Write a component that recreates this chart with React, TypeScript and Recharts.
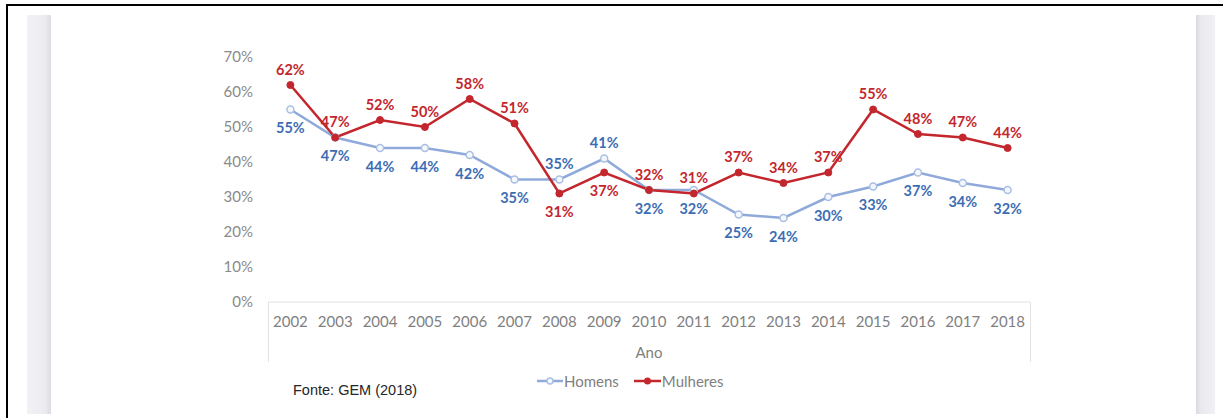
import React from 'react';
import { LineChart, Line, XAxis, YAxis, Legend, LabelList } from 'recharts';

const years = ['2002', '2003', '2004', '2005', '2006', '2007', '2008', '2009', '2010', '2011', '2012', '2013', '2014', '2015', '2016', '2017', '2018'];
const homens = [55, 47, 44, 44, 42, 35, 35, 41, 32, 32, 25, 24, 30, 33, 37, 34, 32];
const mulheres = [62, 47, 52, 50, 58, 51, 31, 37, 32, 31, 37, 34, 37, 55, 48, 47, 44];
const yTicks = [0, 10, 20, 30, 40, 50, 60, 70];

const data = years.map((ano, i) => ({ ano, homens: homens[i], mulheres: mulheres[i] }));

const FONT = "Lato, 'Open Sans', sans-serif";
const RED = '#C3272D';
const BLUE_LINE = '#8FAADA';
const BLUE_TEXT = '#3C6DB4';

const makeLabel = (series: 'homens' | 'mulheres', color: string) => (props: any) => {
  const { x, y, value, index } = props;
  const h = homens[index];
  const m = mulheres[index];
  const swapped = h - m > 2;
  const above = series === 'mulheres' ? !swapped : swapped;
  const dy = above ? -16 : 18;
  return (
    <text
      x={x}
      y={y + dy}
      textAnchor="middle"
      dominantBaseline="central"
      fill={color}
      fontSize={14.5}
      fontWeight={700}
      fontFamily={FONT}
    >
      {value}%
    </text>
  );
};

const LegendContent = () => (
  <div style={{ display: 'flex', alignItems: 'center', fontFamily: FONT, fontSize: 15, color: '#808080', lineHeight: '20px', whiteSpace: 'nowrap' }}>
    <svg width={26} height={10} style={{ display: 'block' }}>
      <line x1={0} y1={5} x2={26} y2={5} stroke={BLUE_LINE} strokeWidth={2.5} />
      <circle cx={13} cy={5} r={3} fill="#f4f7fc" stroke="#a9bfe3" strokeWidth={1.5} />
    </svg>
    <span style={{ marginLeft: 1 }}>Homens</span>
    <svg width={27} height={10} style={{ display: 'block', marginLeft: 15 }}>
      <line x1={0} y1={5} x2={27} y2={5} stroke={RED} strokeWidth={2.5} />
      <circle cx={13.5} cy={5} r={3.5} fill={RED} />
    </svg>
    <span style={{ marginLeft: 1 }}>Mulheres</span>
  </div>
);

export default function App() {
  return (
    <div style={{ position: 'absolute', left: 0, top: 0, width: 1223, height: 418, background: '#ffffff', overflow: 'hidden' }}>
      <div style={{ position: 'absolute', left: 6, top: 4, width: 1217, height: 2, background: '#000' }} />
      <div style={{ position: 'absolute', left: 6, top: 4, width: 2, height: 414, background: '#000' }} />
      <div style={{ position: 'absolute', left: 27, top: 15, width: 24, height: 399, background: 'linear-gradient(to right, #f2f2f6, #ebebf0 75%, #dcdce2)' }} />
      <div style={{ position: 'absolute', left: 1196, top: 15, width: 19, height: 399, background: 'linear-gradient(to right, #dadae0, #e9e9ee 25%, #f1f1f5)' }} />
      <div style={{ position: 'absolute', left: 268, top: 302, width: 761, height: 60, borderLeft: '1px solid #e2e2e2', borderRight: '1px solid #e2e2e2', pointerEvents: 'none' }} />
      <div style={{ position: 'absolute', left: 0, top: 0 }}>
        <LineChart width={1223} height={418} data={data} margin={{ top: 57, right: 193, bottom: 56, left: 0 }}>
          <XAxis
            dataKey="ano"
            interval={0}
            padding={{ left: 22.4, right: 22.4 }}
            height={60}
            tickLine={false}
            tickSize={0}
            tickMargin={14}
            axisLine={{ stroke: '#e2e2e2', strokeWidth: 1 }}
            tick={{ fill: '#7f7f7f', fontSize: 15, fontFamily: FONT }}
            label={{ value: 'Ano', position: 'insideBottom', offset: 4, fill: '#7f7f7f', fontSize: 15, fontFamily: FONT }}
          />
          <YAxis
            type="number"
            domain={[0, 70]}
            ticks={yTicks}
            width={268}
            axisLine={false}
            tickLine={false}
            tickSize={0}
            tickMargin={15}
            tickFormatter={(v: number) => `${v}%`}
            tick={{ fill: '#8a8a8a', fontSize: 15, fontFamily: FONT }}
          />
          <Legend
            layout="horizontal"
            verticalAlign="middle"
            align="center"
            content={LegendContent}
            wrapperStyle={{ left: 537, top: 371, bottom: 'auto', width: 'auto' }}
          />
          <Line
            dataKey="homens"
            name="Homens"
            stroke={BLUE_LINE}
            strokeWidth={2.5}
            dot={{ r: 3.5, fill: '#f4f7fc', stroke: '#a9bfe3', strokeWidth: 1.5 }}
            activeDot={false}
            isAnimationActive={false}
          >
            <LabelList dataKey="homens" content={makeLabel('homens', BLUE_TEXT)} />
          </Line>
          <Line
            dataKey="mulheres"
            name="Mulheres"
            stroke={RED}
            strokeWidth={2.5}
            dot={{ r: 3.5, fill: RED, stroke: RED, strokeWidth: 1 }}
            activeDot={false}
            isAnimationActive={false}
          >
            <LabelList dataKey="mulheres" content={makeLabel('mulheres', RED)} />
          </Line>
        </LineChart>
      </div>
      <div style={{ position: 'absolute', left: 293, top: 381, fontFamily: "'Liberation Sans', Arial, sans-serif", fontSize: 14.5, lineHeight: '18px', color: '#262626', whiteSpace: 'nowrap' }}>
        Fonte: GEM (2018)
      </div>
    </div>
  );
}
